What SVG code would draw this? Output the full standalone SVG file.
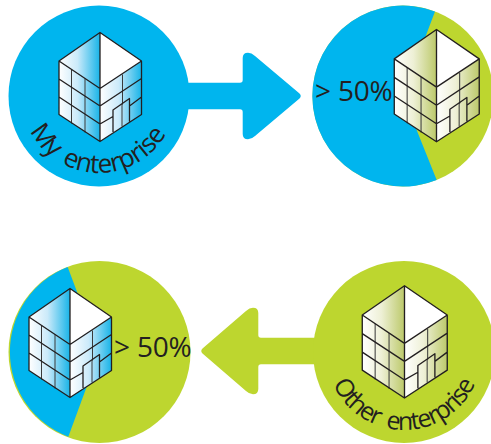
<svg xmlns="http://www.w3.org/2000/svg" width="491" height="444" viewBox="0 0 491 444">
<style>
.b{fill:#00b5ee}.g{fill:#bdd62f}
.t{font-family:"Open Sans","Liberation Sans",sans-serif;fill:#231f20}
.c{font-size:26px;letter-spacing:-.5px;word-spacing:4px}
.d{font-size:25px;letter-spacing:-1.3px;word-spacing:4px}
.p{font-size:28px;letter-spacing:-.2px}
.o{fill:none;stroke:#231f20;stroke-width:1.3;stroke-linejoin:round}
.i{fill:none;stroke:#3a3a3a;stroke-width:1}
.w{fill:#fff}
</style>
<defs>
<linearGradient id="gb"><stop offset="0" stop-color="#fff"/><stop offset=".45" stop-color="#cbeafa"/><stop offset="1" stop-color="#18b4e8"/></linearGradient>
<linearGradient id="gg"><stop offset="0" stop-color="#fff"/><stop offset=".45" stop-color="#eef0d6"/><stop offset="1" stop-color="#bcc96a"/></linearGradient>
<g id="lines">
<path class="i" d="M-28.5 37V91M-15 46V100M22.500 42V72M22 71.500V94"/>
<path class="o" d="M0 0L-41 28.500L0 56L41.500 28.500ZM-41 28.500V82L0 109L41.500 82V28.500M0 0V109M-41 46.500L0 73.500L41.500 46M-41 64.500L0 91.500L13 84M13 99.500V77.500L29.500 66V89M29.500 73.500L41.500 64.500"/>
</g>
<g id="bb">
<path fill="url(#gb)" d="M-41 28.500L0 0V56Z"/><path fill="url(#gb)" d="M-41 28.500L0 56V109L-41 82Z"/><path fill="url(#gb)" d="M0 56L41.500 28.500V82L0 109Z"/><path class="w" d="M0 0L41.500 28.500L0 56Z"/><use href="#lines"/>
</g>
<g id="bg">
<path fill="url(#gg)" d="M-41 28.500L0 0V56Z"/><path fill="url(#gg)" d="M-41 28.500L0 56V109L-41 82Z"/><path fill="url(#gg)" d="M0 56L41.500 28.500V82L0 109Z"/><path class="w" d="M0 0L41.500 28.500L0 56Z"/><use href="#lines"/>
</g>
<path id="arc1" d="M22 96A77 77 0 0 0 176 96"/>
<path id="arc2" d="M326 352A78 78 0 0 0 482 352"/>
</defs>
<g id="connectors">
<path class="b" d="M180 82.700H240Q242.700 82.700 242.700 80V58Q242.700 52.700 248 52.700Q251.500 52.700 255 56L299.500 93.500Q302 96 299.500 98.500L255 136Q251.500 139.300 248 139.300Q242.700 139.300 242.700 134V112Q242.700 109.300 240 109.300H180Z"/>
<path class="g" d="M325 337.700H261Q258.300 337.700 258.300 335V313Q258.300 307.700 253 307.700Q249.500 307.700 246 311L202.500 348.500Q200 351 202.500 353.500L246 391Q249.500 394.300 253 394.300Q258.300 394.300 258.300 389V367Q258.300 364.300 261 364.300H325Z"/>
</g>
<g id="my-enterprise">
<circle class="b" cx="99" cy="96" r="90.500"/>
<use href="#bb" x="100" y="32.500"/>
<text class="t c"><textPath href="#arc1" startOffset="36">My enterprise</textPath></text>
</g>
<g id="share-top">
<circle class="g" cx="403" cy="96" r="90.500"/>
<path class="b" d="M435 11.500A90.500 90.500 0 1 0 436.700 180L403 96Z"/>
<use href="#bg" transform="translate(436.500 29.500) scale(1.03)"/>
<text class="t p" x="315" y="101">&gt; 50%</text>
</g>
<g id="share-bottom">
<circle class="g" cx="99.500" cy="352" r="91"/>
<path class="b" d="M67.700 267A91 91 0 0 0 68.300 436.700L99.500 352Z"/>
<use href="#bb" x="70" y="288.500"/>
<text class="t p" x="114" y="357">&gt; 50%</text>
</g>
<g id="other-enterprise">
<circle class="g" cx="404" cy="352" r="91"/>
<use href="#bg" transform="translate(404.500 285.700) scale(1.03)"/>
<text class="t d"><textPath href="#arc2" startOffset="33">Other enterprise</textPath></text>
</g>
</svg>
